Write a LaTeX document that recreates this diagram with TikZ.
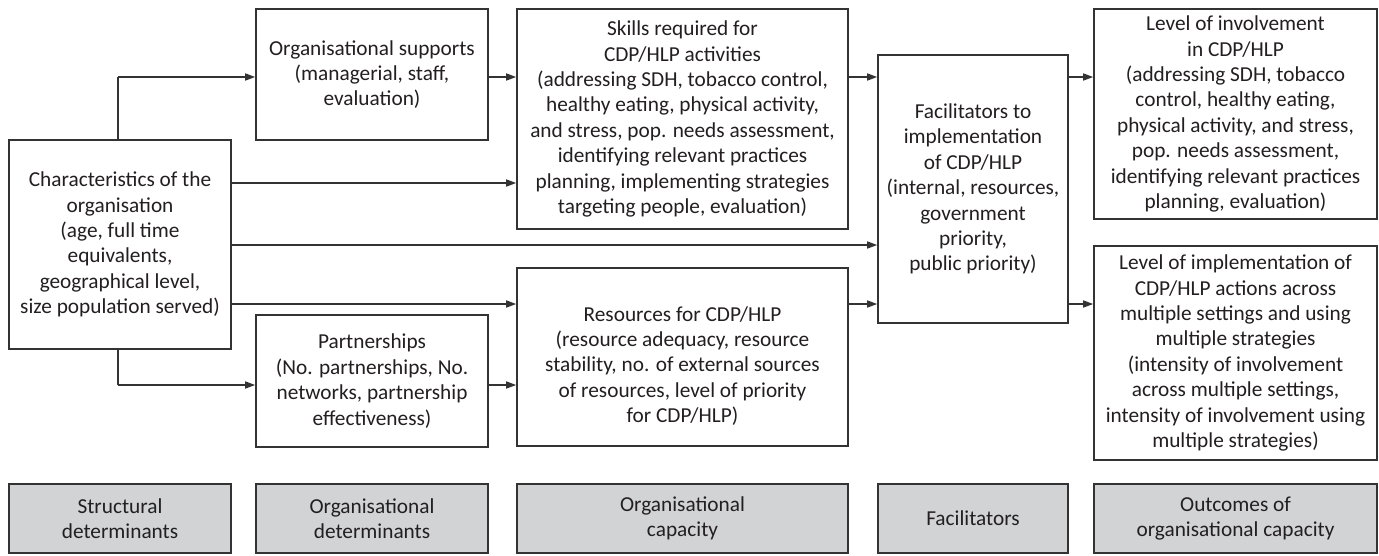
\documentclass[tikz,border=0pt]{standalone}
\usepackage{fontspec}
\setmainfont{Carlito}
\usetikzlibrary{arrows.meta}
\definecolor{ink}{HTML}{231F20}
\definecolor{edge}{HTML}{333333}
\definecolor{band}{HTML}{D1D3D4}
\begin{document}
\begin{tikzpicture}[x=1pt,y=-1pt,
  box/.style={draw=edge,line width=1.6pt,fill=white,align=center,inner sep=0pt,
    text=ink,font=\fontsize{21.3}{25.4}\selectfont},
  bandbox/.style={box,fill=band},
  arr/.style={draw=edge,line width=1.5pt,-{Stealth[length=10pt,width=7pt,inset=0pt]}},
  lin/.style={draw=edge,line width=1.5pt}]
\useasboundingbox (0,0) rectangle (1379,555);

% boxes of the model
\node[box,minimum width=222pt,minimum height=209pt] (char) at (120,244.5)
  {Characteristics of the\\organisation\\(age, full time\\equivalents,\\geographical level,\\size population served)};
\node[box,minimum width=232pt,minimum height=131pt] (supp) at (372,74.5)
  {Organisational supports\\(managerial, staff,\\evaluation)};
\node[box,minimum width=232pt,minimum height=132pt] (part) at (372,381)
  {Partnerships\\(No. partnerships, No.\\networks, partnership\\effectiveness)};
\node[box,minimum width=331pt,minimum height=220pt] (skill) at (682.5,119)
  {Skills required for\\CDP/HLP activities\\(addressing SDH, tobacco control,\\healthy eating, physical activity,\\and stress, pop. needs assessment,\\identifying relevant practices\\planning, implementing strategies\\targeting people, evaluation)};
\node[box,minimum width=331pt,minimum height=178pt] (res) at (682.5,357) {};
\node[text=ink,align=center,inner sep=0pt,font=\fontsize{21.3}{25.4}\selectfont] (restext) at (682.5,366)
  {Resources for CDP/HLP\\(resource adequacy, resource\\stability, no. of external sources\\of resources, level of priority\\for CDP/HLP)};
\node[box,minimum width=190pt,minimum height=268pt] (fac) at (973,189)
  {Facilitators to\\implementation\\of CDP/HLP\\(internal, resources,\\government\\priority,\\public priority)};
\node[box,minimum width=283pt,minimum height=210pt] (inv) at (1235.5,114)
  {Level of involvement\\in CDP/HLP\\(addressing SDH, tobacco\\control, healthy eating,\\physical activity, and stress,\\pop. needs assessment,\\identifying relevant practices\\planning, evaluation)};
\node[box,minimum width=283pt,minimum height=214pt] (impl) at (1235.5,353)
  {Level of implementation of\\CDP/HLP actions across\\multiple settings and using\\multiple strategies\\(intensity of involvement\\across multiple settings,\\intensity of involvement using\\multiple strategies)};

% category bands
\node[bandbox,minimum width=222pt,minimum height=69pt] (b1) at (120,518.5) {Structural\\determinants};
\node[bandbox,minimum width=232pt,minimum height=69pt] (b2) at (372,518.5) {Organisational\\determinants};
\node[bandbox,minimum width=331pt,minimum height=69pt] (b3) at (682.5,518.5) {Organisational\\capacity};
\node[bandbox,minimum width=190pt,minimum height=69pt] (b4) at (973,518.5) {Facilitators};
\node[bandbox,minimum width=283pt,minimum height=69pt] (b5) at (1235.5,518.5) {Outcomes of\\organisational capacity};

% connectors
\coordinate (up) at (118,77);
\coordinate (dn) at (118,385);
\draw[lin] (char.north -| up) -- (up);
\draw[arr] (up) -- (supp.west |- up);
\draw[lin] (char.south -| dn) -- (dn);
\draw[arr] (dn) -- (part.west |- dn);
\draw[arr] (supp.east |- up) -- (skill.west |- up);
\draw[arr] (char.east |- 0,183) -- (skill.west |- 0,183);
\draw[arr] (char.east |- 0,245) -- (fac.west |- 0,245);
\draw[arr] (char.east |- 0,304) -- (res.west |- 0,304);
\draw[arr] (part.east |- dn) -- (res.west |- dn);
\draw[arr] (skill.east |- up) -- (fac.west |- up);
\draw[arr] (res.east |- 0,304) -- (fac.west |- 0,304);
\draw[arr] (fac.east |- up) -- (inv.west |- up);
\draw[arr] (fac.east |- 0,304) -- (impl.west |- 0,304);
\end{tikzpicture}
\end{document}
